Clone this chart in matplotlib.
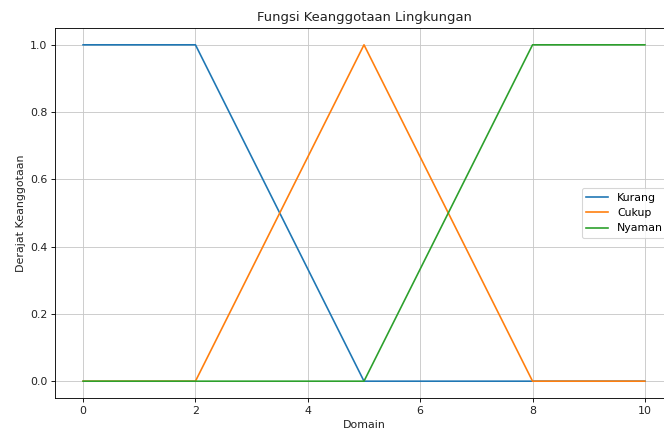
import matplotlib
matplotlib.use("Agg")
import matplotlib.pyplot as plt

# membership functions (domain breakpoints and degrees)
domain = [0, 2, 5, 8, 10]
kurang = [1, 1, 0, 0, 0]
cukup = [0, 0, 1, 0, 0]
nyaman = [0, 0, 0, 1, 1]


def main() -> None:
    dpi = 79
    fig = plt.figure(figsize=(664 / dpi, 432 / dpi), dpi=dpi)
    # axes extends past the right edge like the cropped screenshot
    ax = fig.add_axes([55 / 664, 1 - 398 / 432, 618 / 664, 370 / 432])

    ax.plot(domain, kurang, label="Kurang")
    ax.plot(domain, cukup, label="Cukup")
    ax.plot(domain, nyaman, label="Nyaman")

    ax.set_title("Fungsi Keanggotaan Lingkungan", color="#222222")
    ax.set_xlabel("Domain", color="#222222")
    ax.set_ylabel("Derajat Keanggotaan", color="#222222")
    ax.tick_params(labelcolor="#222222")
    ax.legend(loc="center right")
    ax.grid(True, color="#c8c8c8")

    fig.savefig("out.png", dpi=dpi)


if __name__ == "__main__":
    main()
